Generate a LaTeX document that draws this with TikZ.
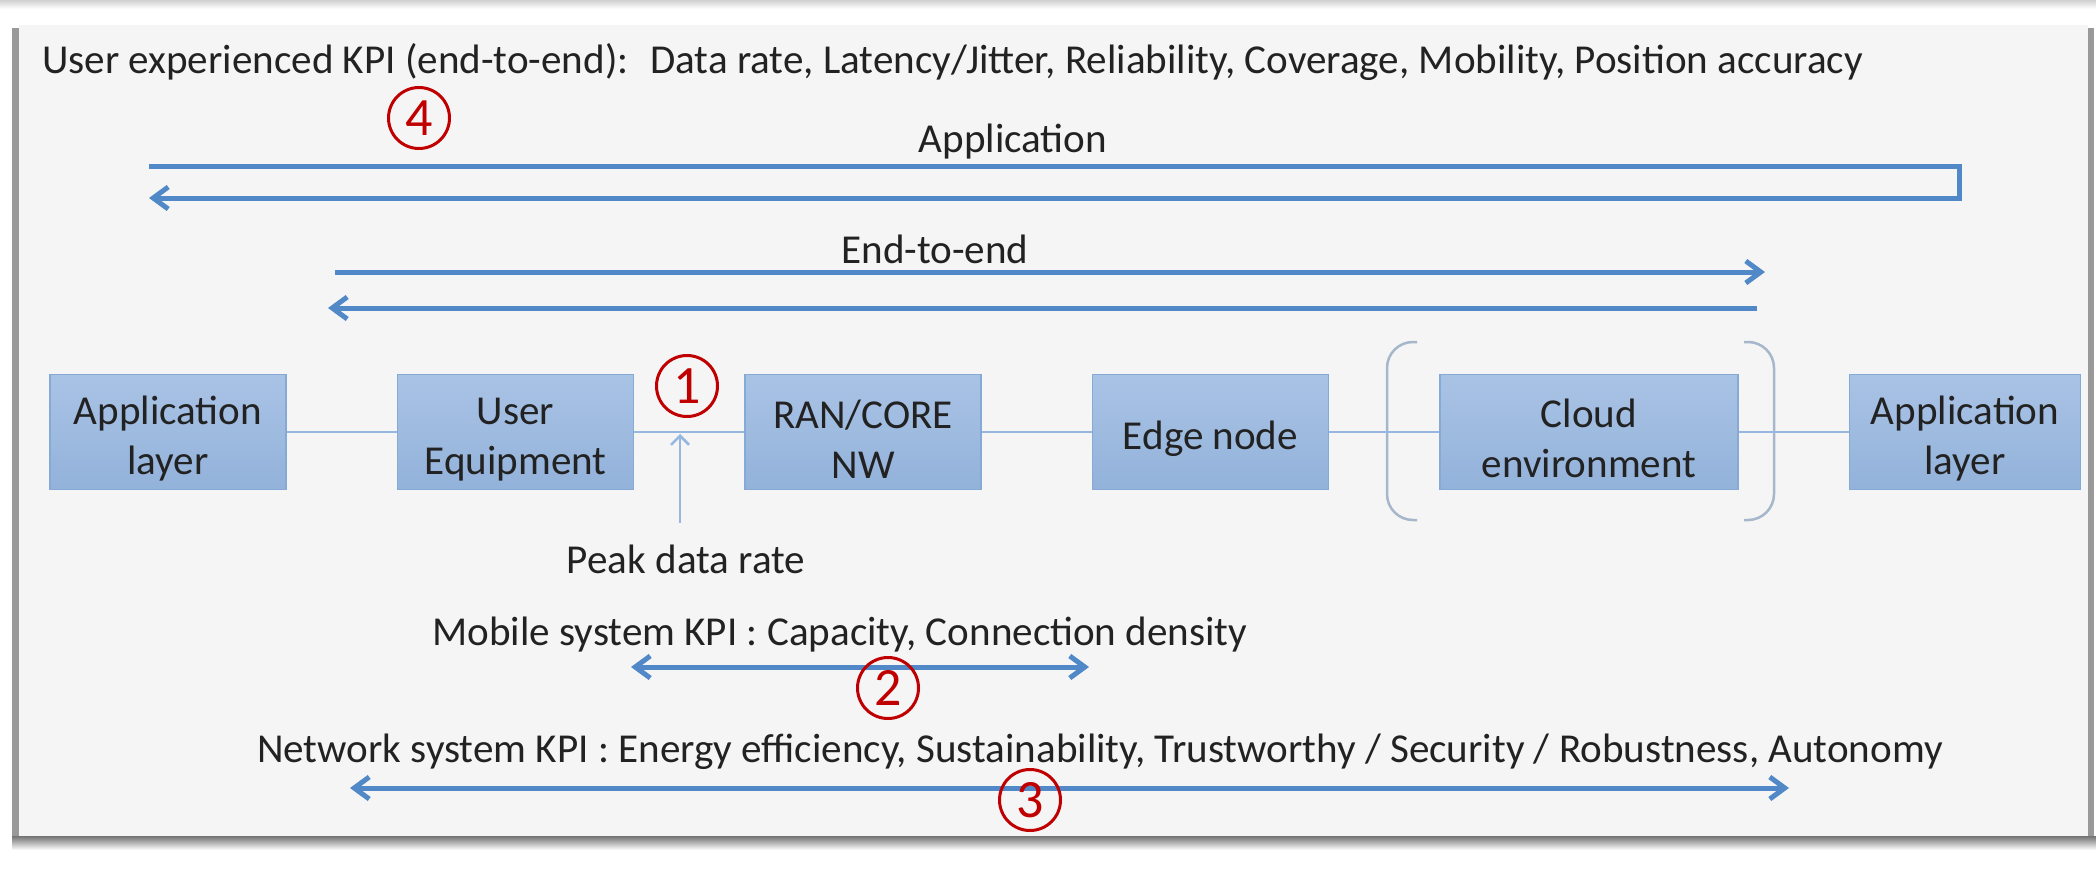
\documentclass[tikz,border=0pt]{standalone}
\usepackage{fontspec}
\setmainfont{Carlito}
\usepackage{xcolor}
\usepackage{tikz}
\usetikzlibrary{arrows.meta,positioning}

\definecolor{panelgray}{HTML}{F5F5F5}
\definecolor{boxtop}{HTML}{A9C3E5}
\definecolor{boxbot}{HTML}{93B2DA}
\definecolor{boxline}{HTML}{86A9D6}
\definecolor{linkblue}{HTML}{95B7E0}
\definecolor{arrowblue}{HTML}{5189C8}
\definecolor{numred}{HTML}{C00000}
\definecolor{inkgray}{HTML}{222222}
\definecolor{bracketgray}{HTML}{A7B7CB}

\newcommand{\kpifont}{\fontsize{41.1}{50}\selectfont}
\newcommand{\boxgap}{\rule{0pt}{42pt}}

\begin{document}
\begin{tikzpicture}[
    x=1pt, y=-1pt,
    >={Straight Barb[length=15pt,width=22pt]},
    box/.style={draw=boxline, line width=1.5pt, top color=boxtop, bottom color=boxbot, minimum width=236pt, minimum height=115pt, inner sep=0pt, align=center, font=\kpifont, text=inkgray},
    txt/.style={font=\kpifont, text=inkgray, inner sep=0pt, anchor=base},
    link/.style={draw=linkblue, line width=2.5pt},
    arrow/.style={->, draw=arrowblue, line width=5pt},
    peakarrow/.style={-{Straight Barb[length=9pt,width=18pt]}, draw=linkblue, line width=2.5pt},
    bracket/.style={draw=bracketgray, line width=2.5pt, rounded corners=26pt},
    num/.style={circle, draw=numred, line width=3pt, text=numred, minimum size=61pt, inner sep=0pt, font=\fontsize{54}{54}\selectfont}
]
    % Page and panel
    \useasboundingbox (0,0) rectangle (2096,886);
    \fill[white] (0,0) rectangle (2096,886);
    \fill[top color=black!18, bottom color=white] (0,0) rectangle (2096,9);
    \fill[black!40] (12,28) rectangle (2094,842);
    \fill[top color=black!55, bottom color=white] (12,836) rectangle (2096,850);
    \fill[panelgray] (19,25) rectangle (2088,836);

    % User experienced KPI
    \node[txt, anchor=base west] (title) at (42,73) {User experienced KPI (end-to-end):~ Data rate, Latency/Jitter, Reliability, Coverage, Mobility, Position accuracy};
    \node[num] (n4) at (419,118) {4};

    % Application loop
    \node[txt] (applbl) at (1013,152) {Application};
    \coordinate (appstart) at (149,166);
    \coordinate (appturn) at (1959,166);
    \coordinate (appback) at (1959,198);
    \coordinate (append) at (149,198);
    \draw[arrow] (appstart) -- (appturn) -- (appback) -- (append);

    % End-to-end
    \node[txt] (e2elbl) at (935,263) {End-to-end};
    \coordinate (e2eA) at (335,272);
    \coordinate (e2eB) at (1765,272);
    \coordinate (e2eC) at (1757,308);
    \coordinate (e2eD) at (328,308);
    \draw[arrow] (e2eA) -- (e2eB);
    \draw[arrow] (e2eC) -- (e2eD);

    % Cloud brackets
    \draw[bracket] (1417,342) -- (1387,342) -- (1387,520) -- (1417,520);
    \draw[bracket] (1744,342) -- (1774,342) -- (1774,520) -- (1744,520);

    % Chain of boxes
    \node[box] (appl) at (168,432) {\boxgap Application\\layer};
    \node[box, right=110pt of appl] (ue) {\boxgap User\\Equipment};
    \node[box, right=110pt of ue] (ran) {\boxgap RAN/CORE\\NW};
    \node[box, right=110pt of ran] (edge) {\boxgap Edge node};
    \node[box, minimum width=298pt, right=110pt of edge] (cloud) {\boxgap Cloud\\environment};
    \node[box, minimum width=231pt, right=110pt of cloud] (appr) {\boxgap Application\\layer};

    \draw[link] (appl) -- (ue);
    \draw[link] (ue) -- (ran);
    \draw[link] (ran) -- (edge);
    \draw[link] (edge) -- (cloud);
    \draw[link] (cloud) -- (appr);

    % Peak data rate
    \node[num] (n1) at (687,386) {1};
    \node[txt] (peak) at (686,573) {Peak data rate};
    \coordinate (peakfoot) at (680,523);
    \coordinate (peaktip) at (680,434);
    \draw[peakarrow] (peakfoot) -- (peaktip);

    % Mobile system KPI
    \node[txt] (mobile) at (840,645) {Mobile system KPI : Capacity, Connection density};
    \coordinate (mobA) at (631,667);
    \coordinate (mobB) at (1089,667);
    \draw[arrow, <->] (mobA) -- (mobB);
    \node[num] (n2) at (888,688) {2};

    % Network system KPI
    \node[txt] (network) at (1100,762) {Network system KPI : Energy efficiency, Sustainability, Trustworthy / Security / Robustness, Autonomy};
    \coordinate (netA) at (350,788);
    \coordinate (netB) at (1789,788);
    \draw[arrow, <->] (netA) -- (netB);
    \node[num] (n3) at (1030,800) {3};
\end{tikzpicture}
\end{document}
